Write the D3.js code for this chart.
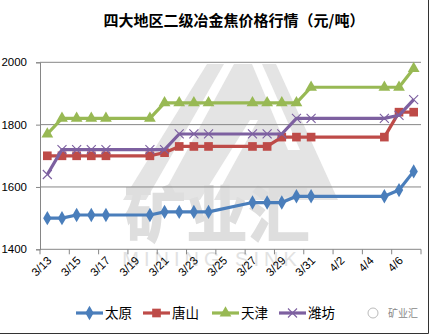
<!DOCTYPE html>
<html><head><meta charset="utf-8">
<script src="https://cdn.jsdelivr.net/npm/d3@7"></script>
<style>
html,body{margin:0;padding:0;background:#fff;}
svg{display:block;}
</style></head>
<body>
<svg id="c" width="431" height="335"></svg>
<script>
// ---- data ----
const axisCategories = ["3/13","3/14","3/15","3/16","3/17","3/18","3/19","3/20","3/21","3/22","3/23","3/24","3/25","3/26","3/27","3/28","3/29","3/30","3/31","4/1","4/2","4/3","4/4","4/5","4/6","4/7"];
const tickLabels = ["3/13","3/15","3/17","3/19","3/21","3/23","3/25","3/27","3/29","3/31","4/2","4/4","4/6"];
const dates = ["3/13","3/14","3/15","3/16","3/17","3/20","3/21","3/22","3/23","3/24","3/27","3/28","3/29","3/30","3/31","4/5","4/6","4/7"];
const taiyuan  = [1500,1500,1510,1510,1510,1510,1520,1520,1520,1520,1550,1550,1550,1570,1570,1570,1590,1650];
const tangshan = [1700,1700,1700,1700,1700,1700,1710,1730,1730,1730,1730,1730,1760,1760,1760,1760,1840,1840];
const tianjin  = [1770,1820,1820,1820,1820,1820,1870,1870,1870,1870,1870,1870,1870,1870,1920,1920,1920,1980];
const weifang  = [1640,1720,1720,1720,1720,1720,1720,1770,1770,1770,1770,1770,1770,1820,1820,1820,1830,1880];
const seriesNames = ["太原","唐山","天津","潍坊"];
const yTicks = [1400,1600,1800,2000];
const title = "四大地区二级冶金焦价格行情（元/吨）";

const series = [
  {name: seriesNames[0], values: taiyuan,  color: "#4A7EBB", marker: "diamond"},
  {name: seriesNames[1], values: tangshan, color: "#BE4B48", marker: "square"},
  {name: seriesNames[2], values: tianjin,  color: "#98B954", marker: "triangle"},
  {name: seriesNames[3], values: weifang,  color: "#7D60A0", marker: "cross"}
];

const svg = d3.select("#c");
const L = 40, R = 421, T = 62.3, B = 249.3;

// ---- watermark ----
const wm = svg.append("g");
wm.append("polygon").attr("points","207,64 276,64 338,200 123,200").attr("fill","#e4e4e4");
wm.append("polygon").attr("points","224,64 234,64 160,200 146,200").attr("fill","#fff");
wm.append("polygon").attr("points","252,64 262,64 300,150 288,150").attr("fill","#fff");
wm.append("polygon").attr("points","200,200 250,120 258,120 214,200").attr("fill","#fff");
wm.append("text").attr("x",217).attr("y",238).attr("text-anchor","middle")
  .attr("font-family","Noto Sans CJK SC").attr("font-weight","900").attr("font-size",62)
  .attr("fill","#dedede").text("矿业汇");
wm.append("text").attr("x",212).attr("y",266).attr("text-anchor","middle")
  .attr("font-family","Liberation Sans").attr("font-size",20).attr("letter-spacing",5)
  .attr("fill","#e2e2e2").text("MINING SINK");

// ---- scales ----
const x = d3.scaleBand().domain(axisCategories).range([L, R]).paddingInner(0).paddingOuter(0);
const cx = d => x(d) + x.bandwidth()/2;
const y = d3.scaleLinear().domain([1400, 2000]).range([B, T]);

// gridlines
svg.append("g").selectAll("line").data(yTicks.filter(v => v > 1400)).join("line")
  .attr("x1", L).attr("x2", R).attr("y1", d => y(d)).attr("y2", d => y(d))
  .attr("stroke", "#868686").attr("stroke-width", 1);

// y axis
const yAxis = svg.append("g").attr("transform", `translate(${L},0)`)
  .call(d3.axisLeft(y).tickValues(yTicks).tickSize(4).tickPadding(9).tickFormat(d3.format("d")));
yAxis.select(".domain").attr("stroke", "#868686");
yAxis.selectAll(".tick line").attr("stroke", "#868686");
yAxis.selectAll("text").attr("font-family", "Liberation Sans").attr("font-size", 11.5).attr("fill", "#000");

// x axis
const xAxisG = svg.append("g").attr("transform", `translate(0,${B})`);
xAxisG.append("line").attr("x1", L).attr("x2", R).attr("y1", 0).attr("y2", 0).attr("stroke", "#868686");
const tickPos = d3.range(0, axisCategories.length + 1, 2).map(i => i < axisCategories.length ? x(axisCategories[i]) : R);
xAxisG.selectAll("line.tk").data(tickPos).join("line").attr("class","tk")
  .attr("x1", d => d).attr("x2", d => d).attr("y1", 0).attr("y2", 5).attr("stroke", "#868686");
xAxisG.selectAll("text").data(tickLabels).join("text")
  .attr("transform", d => `translate(${cx(d)+2},${9}) rotate(-45)`)
  .attr("text-anchor", "end").attr("dy", "0.35em")
  .attr("font-family", "Liberation Sans").attr("font-size", 11.5).attr("fill", "#000")
  .text(d => d);

// ---- series ----
const line = d3.line().x((d, i) => cx(dates[i])).y(d => y(d));
const sym = {
  diamond: d3.symbol().type(d3.symbolDiamond).size(60),
  square: d3.symbol().type(d3.symbolSquare).size(75),
  triangle: d3.symbol().type(d3.symbolTriangle).size(60)
};
function drawMarker(g, type, color, px, py) {
  if (type === "cross") {
    const s = 4.5;
    g.append("path").attr("d", `M${px-s},${py-s}L${px+s},${py+s}M${px-s},${py+s}L${px+s},${py-s}`)
      .attr("stroke", color).attr("stroke-width", 1.1).attr("fill", "none");
  } else {
    g.append("path").attr("d", sym[type]()).attr("transform", `translate(${px},${py})`).attr("fill", color);
  }
}
series.forEach(s => {
  const g = svg.append("g");
  g.append("path").datum(s.values).attr("d", line).attr("fill", "none")
    .attr("stroke", s.color).attr("stroke-width", 3.2).attr("stroke-linejoin", "round");
  s.values.forEach((v, i) => drawMarker(g, s.marker, s.color, cx(dates[i]), y(v)));
});

// ---- title ----
svg.append("text").attr("x", 234).attr("y", 26).attr("text-anchor", "middle")
  .attr("font-family", "Noto Sans CJK SC").attr("font-weight", "bold").attr("font-size", 15)
  .attr("fill", "#000").text(title);

// ---- legend ----
const legX = [76, 143, 212, 279];
series.forEach((s, i) => {
  const g = svg.append("g");
  const x0 = legX[i], ly = 313;
  g.append("line").attr("x1", x0).attr("x2", x0 + 27).attr("y1", ly).attr("y2", ly)
    .attr("stroke", s.color).attr("stroke-width", 3.2);
  drawMarker(g, s.marker, s.color, x0 + 13.5, ly);
  g.append("text").attr("x", x0 + 29).attr("y", ly).attr("dy", "0.36em")
    .attr("font-family", "Noto Sans CJK SC").attr("font-size", 13.5).attr("fill", "#000").text(s.name);
});

// ---- corner watermark ----
svg.append("circle").attr("cx", 373).attr("cy", 313).attr("r", 5).attr("fill", "none").attr("stroke", "#bbb").attr("stroke-width", 1);
svg.append("text").attr("x", 388).attr("y", 313).attr("dy", "0.36em")
  .attr("font-family", "Noto Sans CJK SC").attr("font-size", 10).attr("fill", "#888").text("矿业汇");

// ---- frame ----
svg.append("line").attr("x1", 428.5).attr("x2", 428.5).attr("y1", 0).attr("y2", 333.5).attr("stroke", "#333");
svg.append("line").attr("x1", 0).attr("x2", 428.5).attr("y1", 333.5).attr("y2", 333.5).attr("stroke", "#333");
</script>
</body></html>
